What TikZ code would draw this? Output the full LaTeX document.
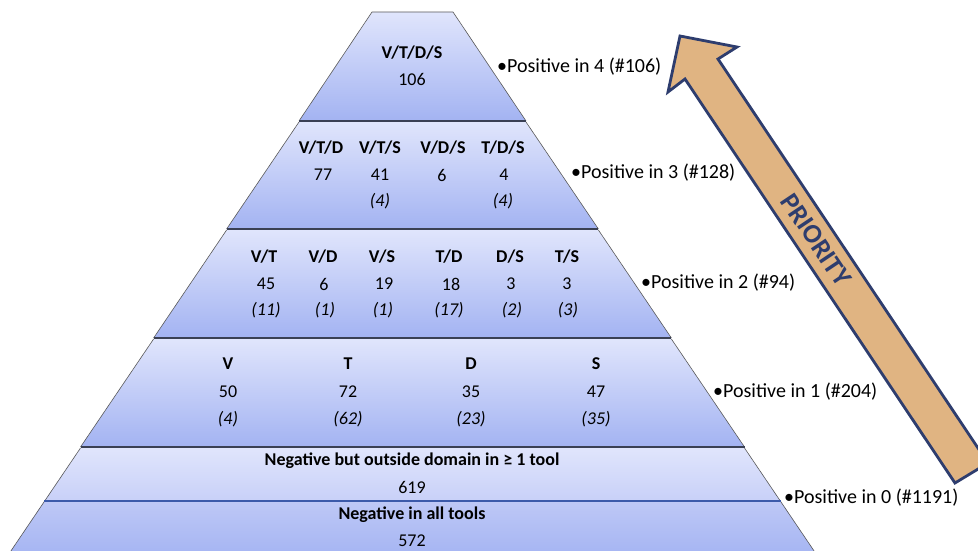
\documentclass[tikz,border=0pt]{standalone}
\usepackage{fontspec}
\setmainfont{Carlito}
\definecolor{lyTop}{RGB}{224,229,252}
\definecolor{lyBot}{RGB}{163,179,242}
\definecolor{lyMid}{RGB}{200,208,248}
\definecolor{lyMid2}{RGB}{190,200,246}
\definecolor{sepCol}{RGB}{58,64,84}
\definecolor{blueSep}{RGB}{60,90,170}
\definecolor{arrFill}{RGB}{224,180,130}
\definecolor{arrLine}{RGB}{46,61,110}
\begin{document}
\begin{tikzpicture}[x=1pt,y=-1pt,
  side/.style={draw=black!65, line width=0.6pt},
  sepline/.style={draw=sepCol, line width=1.4pt},
  txt/.style={inner sep=0pt, font=\fontsize{18}{20}\selectfont},
  hdr/.style={inner sep=0pt, font=\fontsize{18}{20}\selectfont\bfseries},
  itl/.style={inner sep=0pt, font=\fontsize{18}{20}\selectfont\itshape},
  poslbl/.style={inner sep=0pt, anchor=west, font=\fontsize{20}{22}\selectfont},
  arrowshape/.style={fill=arrFill, draw=arrLine, line width=2.8pt, line join=miter}]
\useasboundingbox (0,0) rectangle (978,551);
\clip (0,0) rectangle (978,551);

% layer 1
\shade[top color=lyTop, bottom color=lyBot] (372,12) -- (453,12) -- (526,121) -- (299,121) -- cycle;
\draw[side] (299,121) -- (372,12) -- (453,12) -- (526,121);
\draw[sepline] (299,121) -- (526,121);
% layer 2
\shade[top color=lyTop, bottom color=lyBot] (299,122) -- (526,122) -- (598.4,229) -- (226.6,229) -- cycle;
\draw[side] (299,122) -- (226.6,229);
\draw[side] (526,122) -- (598.4,229);
\draw[sepline] (226.6,229) -- (598.4,229);
% layer 3
\shade[top color=lyTop, bottom color=lyBot] (226.6,230) -- (598.4,230) -- (671.4,338) -- (153.6,338) -- cycle;
\draw[side] (226.6,230) -- (153.6,338);
\draw[side] (598.4,230) -- (671.4,338);
\draw[sepline] (153.6,338) -- (671.4,338);
% layer 4
\shade[top color=lyTop, bottom color=lyBot] (153.6,339) -- (671.4,339) -- (744.5,447) -- (80.5,447) -- cycle;
\draw[side] (153.6,339) -- (80.5,447);
\draw[side] (671.4,339) -- (744.5,447);
\draw[sepline] (80.5,447) -- (744.5,447);
% layer 5
\shade[top color=lyTop, bottom color=lyMid] (80.5,448) -- (744.5,448) -- (780.6,501) -- (44.4,501) -- cycle;
% layer 6
\shade[top color=lyMid2, bottom color=lyBot] (44.4,501) -- (780.6,501) -- (820.2,560) -- (4.8,560) -- cycle;
\draw[side] (80.5,448) -- (4.8,560);
\draw[side] (744.5,448) -- (820.2,560);
\draw[draw=blueSep, line width=1.1pt] (44.4,501) -- (780.6,501);

% layer 1 text
\node[hdr] (h4) at (412,53) {V/T/D/S};
\node[txt] (n4) at (412,79) {106};
% layer 2 text
\node[hdr] (vtd) at (321,148) {V/T/D};
\node[hdr] (vts) at (380,148) {V/T/S};
\node[hdr] (vds) at (443,148) {V/D/S};
\node[hdr] (tds) at (503,148) {T/D/S};
\node[txt] (nvtd) at (323,175) {77};
\node[txt] (nvts) at (380,175) {41};
\node[txt] (nvds) at (442,175) {6};
\node[txt] (ntds) at (504,175) {4};
\node[itl] (ivts) at (380,201) {(4)};
\node[itl] (itds) at (503,201) {(4)};
% layer 3 text
\node[hdr] (vt) at (264,257) {V/T};
\node[hdr] (vd) at (323,257) {V/D};
\node[hdr] (vs) at (382,257) {V/S};
\node[hdr] (td) at (449,257) {T/D};
\node[hdr] (ds) at (510,257) {D/S};
\node[hdr] (ts) at (567,257) {T/S};
\node[txt] (nvt) at (266,284) {45};
\node[txt] (nvd) at (324,284) {6};
\node[txt] (nvs) at (384,284) {19};
\node[txt] (ntd) at (451,284) {18};
\node[txt] (nds) at (511,284) {3};
\node[txt] (nts) at (567,284) {3};
\node[itl] (ivt) at (266,310) {(11)};
\node[itl] (ivd) at (325,310) {(1)};
\node[itl] (ivs) at (383,310) {(1)};
\node[itl] (itd) at (449,310) {(17)};
\node[itl] (ids) at (512,310) {(2)};
\node[itl] (its) at (568,310) {(3)};
% layer 4 text
\node[hdr] (v) at (228,364) {V};
\node[hdr] (t) at (348,364) {T};
\node[hdr] (d) at (471,364) {D};
\node[hdr] (s) at (596,364) {S};
\node[txt] (nv) at (228,392) {50};
\node[txt] (nt) at (348,392) {72};
\node[txt] (nd) at (471,392) {35};
\node[txt] (ns) at (596,392) {47};
\node[itl] (iv) at (228,419) {(4)};
\node[itl] (it) at (348,419) {(62)};
\node[itl] (id) at (471,419) {(23)};
\node[itl] (is) at (596,419) {(35)};
% layer 5 and 6 text
\node[hdr] (neg1) at (412,461) {Negative but outside domain in ≥ 1 tool};
\node[txt] (nneg1) at (412,487) {619};
\node[hdr] (neg0) at (412,515) {Negative in all tools};
\node[txt] (nneg0) at (412,541) {572};

% right labels
\node[poslbl] (p4) at (497,67) {•Positive in 4 (\#106)};
\node[poslbl] (p3) at (571,173) {•Positive in 3 (\#128)};
\node[poslbl] (p2) at (641,283) {•Positive in 2 (\#94)};
\node[poslbl] (p1) at (713,392) {•Positive in 1 (\#204)};
\node[poslbl] (p0) at (784,498) {•Positive in 0 (\#1191)};

% priority arrow
\draw[arrowshape] (680,36) -- (737,47) -- (718,59) -- (988,463) -- (955,483) -- (685,79) -- (668,92) -- cycle;
\node[inner sep=0pt, text=arrLine, rotate=-56.2, font=\fontsize{27}{30}\selectfont\bfseries] (prio) at (816,240) {PRIORITY};
\end{tikzpicture}
\end{document}
